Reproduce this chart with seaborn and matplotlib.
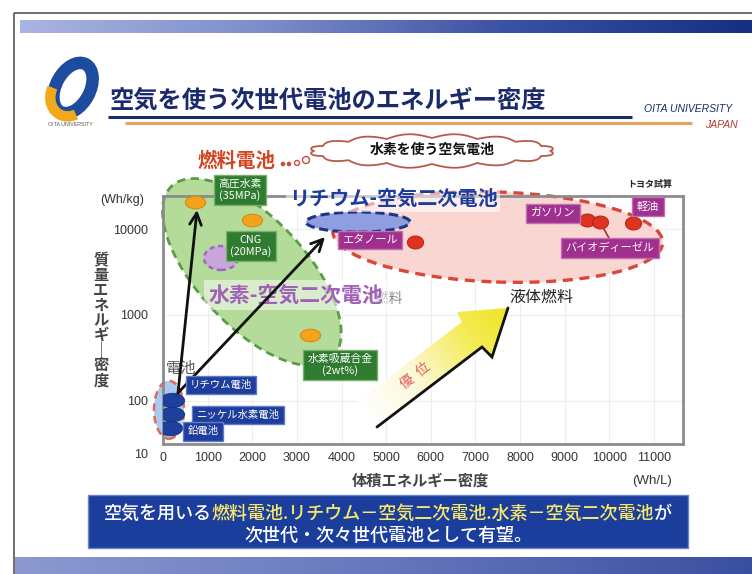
import numpy as np
import pandas as pd
import matplotlib
matplotlib.use("Agg")
import matplotlib.pyplot as plt
import seaborn as sns
from matplotlib.patches import Ellipse, Polygon, Rectangle, Circle, Arc
from matplotlib.path import Path
from matplotlib.transforms import IdentityTransform, Affine2D
from matplotlib.colors import LinearSegmentedColormap

# ---------------- energy density data (Wh/L, Wh/kg) ----------------
fuel_names = ["エタノール", "ガソリン", "バイオディーゼル", "軽油"]
fuel_wh_per_l = [5650, 9500, 9790, 10530]
fuel_wh_per_kg = [7060, 12700, 12100, 11800]

hydrogen_names = ["高圧水素\n(35MPa)", "CNG\n(20MPa)", "水素吸蔵合金\n(2wt%)"]
hydrogen_wh_per_l = [720, 1990, 3290]
hydrogen_wh_per_kg = [20600, 12700, 585]

battery_names = ["リチウム電池", "ニッケル水素電池", "鉛電池"]
battery_wh_per_l = [200, 200, 160]
battery_wh_per_kg = [103, 71, 48]

# centres of the outlined groups
gas_fuel_centre = (1990, 3160)
liquid_fuel_centre = (7500, 8070)
battery_centre = (134, 79)
li_air_centre = (4370, 12050)
h2_air_centre = (1300, 4600)

x_ticks = [0, 1000, 2000, 3000, 4000, 5000, 6000, 7000, 8000, 9000, 10000, 11000]
y_ticks = [100, 1000, 10000]

title = "空気を使う次世代電池のエネルギー密度"

# ---------------- figure / theme ----------------
W, H = 752, 574
sns.set_theme(style="white")
plt.rcParams["font.family"] = ["Noto Sans CJK JP", "DejaVu Sans"]
plt.rcParams["axes.unicode_minus"] = False

fig = plt.figure(figsize=(W / 100, H / 100), dpi=100)
bg = fig.add_axes([0, 0, 1, 1], zorder=0)
ax = fig.add_axes([163 / W, 1 - 444 / H, 520 / W, 248 / H], zorder=1)


def disp(px, py):
    return (px, H - py)


# ---------------- scatter marks ----------------
def ellipse_marker(ratio):
    return Path.unit_circle().transformed(Affine2D().scale(1, ratio))


hyd = pd.DataFrame({"vol": hydrogen_wh_per_l, "grav": hydrogen_wh_per_kg})
fuel = pd.DataFrame({"vol": fuel_wh_per_l, "grav": fuel_wh_per_kg})
bat = pd.DataFrame({"vol": battery_wh_per_l, "grav": battery_wh_per_kg})

sns.scatterplot(data=hyd, x="vol", y="grav", marker=ellipse_marker(0.62), s=210,
                color="#f5a31a", edgecolor="#d98a12", linewidth=0.8, ax=ax, zorder=5)
sns.scatterplot(data=fuel, x="vol", y="grav", marker=ellipse_marker(0.8), s=135,
                color="#e0331f", edgecolor="#b5281a", linewidth=0.8, ax=ax, zorder=5)
sns.scatterplot(data=bat, x="vol", y="grav", marker=ellipse_marker(0.6), s=300,
                color="#1e3f9c", edgecolor="#16307a", linewidth=0.6, ax=ax, zorder=4)

ax.set_yscale("log")
ax.set_xlim(0, 11650)
ax.set_ylim(31.6, 24200)
ax.set_autoscale_on(False)
ax.set_xlabel("")
ax.set_ylabel("")
ax.set_xticks(x_ticks)
ax.set_xticklabels([str(v) for v in x_ticks])
ax.set_yticks(y_ticks)
ax.set_yticklabels([str(v) for v in y_ticks])
ax.yaxis.set_minor_locator(matplotlib.ticker.NullLocator())
ax.tick_params(axis="both", length=0, labelsize=9, colors="#333333")
ax.tick_params(axis="x", pad=6)
ax.tick_params(axis="y", pad=11)
for tl in ax.get_xticklabels() + ax.get_yticklabels():
    tl.set_fontfamily("Liberation Sans")
ax.grid(True, color="#ededed", lw=0.8)
ax.set_axisbelow(True)
for sp in ax.spines.values():
    sp.set_color("#8c8c8c")
    sp.set_linewidth(2)
ax.set_facecolor("white")


# ---------------- group outlines ----------------
def region(centre, w, h, angle, z, **kw):
    c = ax.transData.transform(centre)
    e = Ellipse(c, w, h, angle=angle, transform=IdentityTransform(),
                zorder=z, clip_on=False, **kw)
    ax.add_patch(e)
    return e


region(gas_fuel_centre, 235, 108, -47, 1, fc="#b4db9a", ec="#5b9d45", lw=2,
       ls=(0, (3, 2)))
region(liquid_fuel_centre, 330, 90, -2, 1, fc="#f9d6d1", ec="#d8473a", lw=2.4,
       ls=(0, (3, 2)))
region(li_air_centre, 104, 20, 0, 2, fc="#8e9ee0", ec="#1d3584", lw=2.2,
       ls=(0, (3, 1.5)))
region(h2_air_centre, 34, 24, 0, 2, fc="#caa6db", ec="#9a6cc0", lw=1.8,
       ls=(0, (2, 1.5)))
region(battery_centre, 30, 58, 0, 2, fc="#a9cbee", ec="#e06a55", lw=1.8,
       ls=(0, (3, 2)))

# ---------------- "superiority" arrow with gradient ----------------
arrow_px = [(377, 427), (482, 347), (492, 357), (508, 308), (457, 312),
            (462, 322), (357, 402)]
arrow_patch = Polygon([disp(*p) for p in arrow_px], closed=True,
                      transform=IdentityTransform(), fc="none", ec="none",
                      zorder=2)
ax.add_patch(arrow_patch)
grad = LinearSegmentedColormap.from_list(
    "grad", [(0, "#ffffff"), (0.35, "#fbf8d8"), (0.7, "#f4ec5a"), (1, "#efe322")])
o = np.array(disp(377, 427), float)
u = np.array([105, 80], float)
u /= np.linalg.norm(u)
n = np.array([-u[1], u[0]])
N = 70
s_edges = np.linspace(-5, 180, N + 1)
for i in range(N):
    s0, s1 = s_edges[i], s_edges[i + 1] + 0.6
    quad = [o + s0 * u - 40 * n, o + s1 * u - 40 * n,
            o + s1 * u + 90 * n, o + s0 * u + 90 * n]
    strip = Polygon(quad, closed=True, transform=IdentityTransform(),
                    fc=grad(i / (N - 1)), ec="none", zorder=2)
    ax.add_patch(strip)
    strip.set_clip_on(True)
    strip.set_clip_path(arrow_patch)
edge = [disp(*p) for p in [(377, 427), (482, 347), (492, 357), (508, 308)]]
ax.plot([p[0] for p in edge], [p[1] for p in edge], color="#111111", lw=2,
        transform=IdentityTransform(), zorder=3, clip_on=False,
        solid_joinstyle="miter")
ax.text(*disp(416, 376), "優  位", transform=IdentityTransform(), rotation=37,
        ha="center", va="center", fontsize=10, color="#e25f5f", zorder=3)

# ---------------- black arrows from batteries ----------------
start = (336, 124)
for end in [(762, 16630), (3629, 8070)]:
    ax.annotate("", xy=end, xytext=start,
                arrowprops=dict(arrowstyle="->,head_length=0.7,head_width=0.35",
                                color="#111111", lw=2, shrinkA=0, shrinkB=0),
                zorder=4, annotation_clip=False)


# ---------------- label boxes ----------------
def tag(x, y, text, off, fc, ec, fs):
    return ax.annotate(text, (x, y), xytext=off, textcoords="offset pixels",
                       ha="center", va="center", color="white", fontsize=fs,
                       linespacing=1.1, zorder=6, annotation_clip=False,
                       bbox=dict(boxstyle="square,pad=0.4", fc=fc, ec=ec, lw=1))


hyd_offsets = [(45, 12), (-1, -26), (30, -30)]
for x, y, name, off in zip(hydrogen_wh_per_l, hydrogen_wh_per_kg, hydrogen_names, hyd_offsets):
    tag(x, y, name, off, "#2f7c31", "#78b070", 7.8)

fuel_offsets = [(-45, 2), (-34, 7), (10, -26), (15, 16)]
for x, y, name, off in zip(fuel_wh_per_l, fuel_wh_per_kg, fuel_names, fuel_offsets):
    tag(x, y, name, off, "#a0308e", "#c070b0", 8)

ax.annotate("", xy=(fuel_wh_per_l[2], fuel_wh_per_kg[2]), xytext=(10, -18),
            textcoords="offset pixels",
            arrowprops=dict(arrowstyle="-", color="#b5281a", lw=1.2,
                            shrinkA=0, shrinkB=0), zorder=4)

bat_offsets = [(49, 15), (66, -1), (33, -3)]
for x, y, name, off in zip(battery_wh_per_l, battery_wh_per_kg, battery_names, bat_offsets):
    tag(x, y, name, off, "#1f3d9a", "#5d7cc8", 7.5)

# ---------------- group titles ----------------
ax.text(*disp(181, 368), "電池", transform=IdentityTransform(), ha="center",
        va="center", fontsize=11, color="#555555", zorder=3)
ax.text(*disp(376, 299), "ガス燃料", transform=IdentityTransform(), ha="center",
        va="center", fontsize=10, color="#8a8a8a", zorder=2)
ax.text(*disp(296, 295), "水素-空気二次電池", transform=IdentityTransform(),
        ha="center", va="center", fontsize=15, color="#a061b8", fontweight="bold",
        zorder=3, bbox=dict(boxstyle="square,pad=0.2", fc="white", ec="none", alpha=0.5))
ax.text(*disp(393, 198), "リチウム-空気二次電池", transform=IdentityTransform(),
        ha="center", va="center", fontsize=14.5, color="#1c3c9e", fontweight="bold",
        zorder=3, bbox=dict(boxstyle="square,pad=0.15", fc="white", ec="none", alpha=0.55))
ax.text(*disp(541, 297), "液体燃料", transform=IdentityTransform(), ha="center",
        va="center", fontsize=11.5, color="#222222", zorder=3)

# ---------------- axis titles ----------------
bg.set_xlim(0, W)
bg.set_ylim(H, 0)
bg.axis("off")

bg.text(122, 200, "(Wh/kg)", ha="center", va="center", fontsize=9,
        color="#333333", family="Liberation Sans")
bg.text(148, 455, "10", ha="right", va="center", fontsize=9, color="#333333",
        family="Liberation Sans")
bg.text(101, 320, "\n".join("質量エネルギ｜密度"), ha="center", va="center",
        fontsize=11, color="#444444", fontweight="bold", linespacing=0.93)
bg.text(420, 481, "体積エネルギー密度", ha="center", va="center", fontsize=11,
        color="#444444", fontweight="bold")
bg.text(652, 481, "(Wh/L)", ha="center", va="center", fontsize=9.5,
        color="#333333", family="Liberation Sans")
bg.text(650, 184, "トヨタ試算", ha="center", va="center", fontsize=6.5,
        color="#222222", fontweight="bold")

# ---------------- slide frame and bars ----------------
bg.add_patch(Rectangle((14, 13), 745, 570, fc="none", ec="#555555", lw=1.2))
bar_cmap = LinearSegmentedColormap.from_list(
    "bar", ["#aab4e2", "#7d8dcb", "#3b51a2", "#172f7e"])
gradient = np.linspace(0, 1, 256)[None, :]
bg.imshow(gradient, extent=(20, 752, 33, 20), cmap=bar_cmap, aspect="auto", zorder=1)
bot_cmap = LinearSegmentedColormap.from_list(
    "bot", ["#8d99d0", "#6677bd", "#3a4f9f"])
bg.imshow(gradient, extent=(15, 752, 574, 557), cmap=bot_cmap, aspect="auto", zorder=1)
bg.set_xlim(0, W)
bg.set_ylim(H, 0)

# logo
bg.add_patch(Ellipse((73, 88), 34, 54, angle=28, fc="none", ec="#1d4c9e", lw=9))
bg.add_patch(Arc((70, 95), 38, 44, angle=28, theta1=45, theta2=175,
                 ec="#f2a81d", lw=7.5))
bg.text(70, 125, "OITA UNIVERSITY", ha="center", va="center", fontsize=3.8,
        color="#555555", family="Liberation Sans")

# title and rules
bg.text(110, 101, title, ha="left", va="center", fontsize=17.5, color="#1b2a6c",
        fontweight="bold")
bg.plot([108, 632], [117, 117], color="#1c2a6a", lw=2.2, solid_capstyle="butt")
bg.plot([125, 692], [123, 123], color="#e3a463", lw=2.2, solid_capstyle="butt")
bg.text(688, 109, "OITA UNIVERSITY", ha="center", va="center", fontsize=7.5,
        color="#1c2a6a", style="italic", family="Liberation Sans")
bg.text(738, 125, "JAPAN", ha="right", va="center", fontsize=7.5,
        color="#b23a2a", style="italic", family="Liberation Sans")

# fuel-cell caption with thought cloud
bg.text(198, 161, "燃料電池", ha="left", va="center", fontsize=14,
        color="#d2431f", fontweight="bold")
for (cx, cy, r, filled) in [(283, 164, 1.6, True), (289, 164, 1.6, True),
                            (297, 163, 2.5, False), (306, 160, 3.5, False)]:
    bg.add_patch(Circle((cx, cy), r, fc="#c2503c" if filled else "white",
                        ec="#c2503c", lw=1))
t = np.linspace(0, 2 * np.pi, 800)
bump = 4.5 * np.abs(np.sin(8 * t))
cloud_x = 432 + (118 + bump) * np.cos(t)
cloud_y = 151 + (13 + bump * 0.9) * np.sin(t)
bg.add_patch(Polygon(np.column_stack([cloud_x, cloud_y]), closed=True,
                     fc="white", ec="#b85a4a", lw=1.3))
bg.text(432, 150, "水素を使う空気電池", ha="center", va="center", fontsize=10,
        color="#111111", fontweight="bold")

# conclusion box
bg.add_patch(Rectangle((88, 495), 600, 53, fc="#1b3d9c", ec="#6a86d0", lw=1, zorder=3))
renderer = fig.canvas.get_renderer()


def rich_line(parts, cx, cy, fs):
    objs = [bg.text(0, cy, s, color=c, fontsize=fs, ha="left", va="center", zorder=4,
                    fontweight="medium")
            for s, c in parts]
    widths = [o_.get_window_extent(renderer).width for o_ in objs]
    x = cx - sum(widths) / 2
    for o_, w in zip(objs, widths):
        o_.set_x(x)
        x += w


rich_line([("空気を用いる", "white"),
           ("燃料電池.リチウム－空気二次電池.水素－空気二次電池", "#f6e86a"),
           ("が", "white")], 388, 514, 13)
rich_line([("次世代・次々世代電池として有望。", "white")], 388, 536, 13)

fig.savefig("out.png", dpi=100)
